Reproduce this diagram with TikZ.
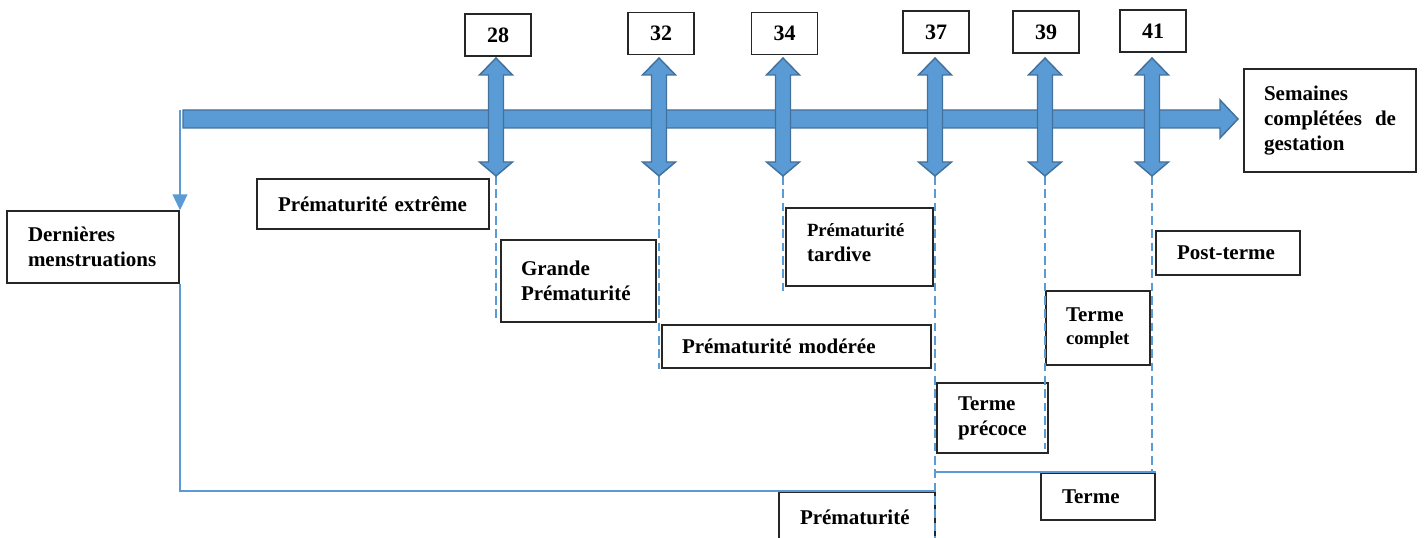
\documentclass[tikz,border=0pt]{standalone}
\usepackage{fontspec}
\setmainfont{Liberation Serif}
\usetikzlibrary{arrows.meta,calc}
\definecolor{ablue}{HTML}{5B9BD5}
\definecolor{aedge}{HTML}{41719C}
\definecolor{lblue}{HTML}{5B9BD5}
\newcommand\darr[1]{%
  \path[arr] (#1,58) -- (#1+16.5,75) -- (#1+7.5,75) -- (#1+7.5,162) -- (#1+16.5,162)
    -- (#1,176) -- (#1-16.5,162) -- (#1-7.5,162) -- (#1-7.5,75) -- (#1-16.5,75) -- cycle;}
\begin{document}
\begin{tikzpicture}[x=0.75pt,y=-0.75pt,
  bx/.style={draw=black!85, line width=1pt, inner ysep=0pt, align=left,
    font=\bfseries\fontsize{15.75}{18.75}\selectfont},
  num/.style={draw=black!85, line width=1pt, minimum width=49.5pt, minimum height=31.5pt,
    inner sep=0pt, font=\bfseries\fontsize{16.5}{18.75}\selectfont},
  conn/.style={draw=lblue, line width=1.5pt},
  dsh/.style={draw=lblue, line width=2pt, dash pattern=on 6.5pt off 3.5pt},
  arr/.style={fill=ablue, draw=aedge, line width=1.1pt, line join=miter}]
\useasboundingbox (0,0) rectangle (1424,538);
\clip (0,0) rectangle (1424,538);

% number boxes
\node[num] (n28) at (498,35) {28};
\node[num] (n32) at (661,33.5) {32};
\node[num] (n34) at (784.5,33.5) {34};
\node[num] (n37) at (936,32) {37};
\node[num] (n39) at (1046,32) {39};
\node[num] (n41) at (1153,31) {41};

% label boxes
\node[bx, minimum width=129pt, minimum height=77.25pt, text width=99pt, inner xsep=15pt]
  (sem) at (1330,120.5) {Semaines\\complétées\hfill de\\gestation};
\node[bx, minimum width=129pt, minimum height=54pt, text width=97.5pt, inner xsep=15.75pt]
  (dern) at (93,247) {Dernières\\menstruations};
\node[bx, minimum width=174pt, minimum height=37.5pt, text width=142.5pt, inner xsep=15.75pt]
  (extreme) at (373,204) {Prématurité~extrême};
\node[bx, minimum width=116.25pt, minimum height=61.5pt, text width=86.25pt, inner xsep=15pt]
  (grande) at (578.5,281) {Grande\\Prématurité};
\node[bx, minimum width=110.25pt, minimum height=58.5pt, text width=78.75pt, inner xsep=15.75pt]
  (tardive) at (859.5,247) {{\fontsize{14}{17.25}\selectfont Prématurité}\\tardive\\[-12pt]\mbox{}};
\node[bx, minimum width=201.75pt, minimum height=32.25pt, text width=171.75pt, inner xsep=15pt]
  (moderee) at (796.5,346.5) {Prématurité~modérée};
\node[bx, minimum width=108pt, minimum height=33pt, text width=76.5pt, inner xsep=15.75pt]
  (post) at (1228,253) {Post-terme};
\node[bx, minimum width=78pt, minimum height=55.5pt, text width=48pt, inner xsep=15pt]
  (complet) at (1098,328) {Terme\\[-2pt]{\fontsize{14}{16.5}\selectfont complet}};
\node[bx, minimum width=83.25pt, minimum height=52.5pt, text width=51.75pt, inner xsep=15.75pt]
  (precoce) at (992.5,418) {Terme\\précoce};
\node[bx, minimum width=85.5pt, minimum height=35.25pt, text width=54pt, inner xsep=15.75pt]
  (terme) at (1098,496.5) {Terme};
\node[bx, minimum width=117pt, minimum height=37.5pt, text width=85.5pt, inner xsep=15.75pt]
  (prem) at (857,517) {Prématurité};

% arrow ends
\coordinate (lmp) at (180,110);
\coordinate (b28) at (496,176);
\coordinate (b32) at (659,176);
\coordinate (b34) at (783,176);
\coordinate (b37) at (935,176);
\coordinate (b39) at (1045,176);
\coordinate (b41) at (1152,176);

% dashed guides
\draw[dsh] (b28) -- ($(b28 |- grande.south)+(0,-4)$);
\draw[dsh] (b32) -- (b32 |- moderee.south);
\draw[dsh] (b34) -- ($(b34 |- tardive.south)+(0,9)$);
\draw[dsh] (b37) -- ($(b37 |- prem.south)+(0,10)$);
\draw[dsh] (b39) -- ($(b39 |- precoce.south)+(0,-5)$);
\draw[dsh] (b41) -- (b41 |- terme.north);
\draw[conn] (b37 |- terme.north) -- (terme.north east);

% connectors from LMP
\draw[conn, -{Triangle[width=11pt,length=12pt]}] (lmp) -- (lmp |- dern.north);
\draw[conn] (dern.south east) |- (prem.north east);

% main time axis
\path[arr] (183,110) -- (1220,110) -- (1220,100) -- (1238,119) -- (1220,138)
  -- (1220,128) -- (183,128) -- cycle;

% vertical double arrows
\darr{496}
\darr{659}
\darr{783}
\darr{935}
\darr{1045}
\darr{1152}
\end{tikzpicture}
\end{document}
